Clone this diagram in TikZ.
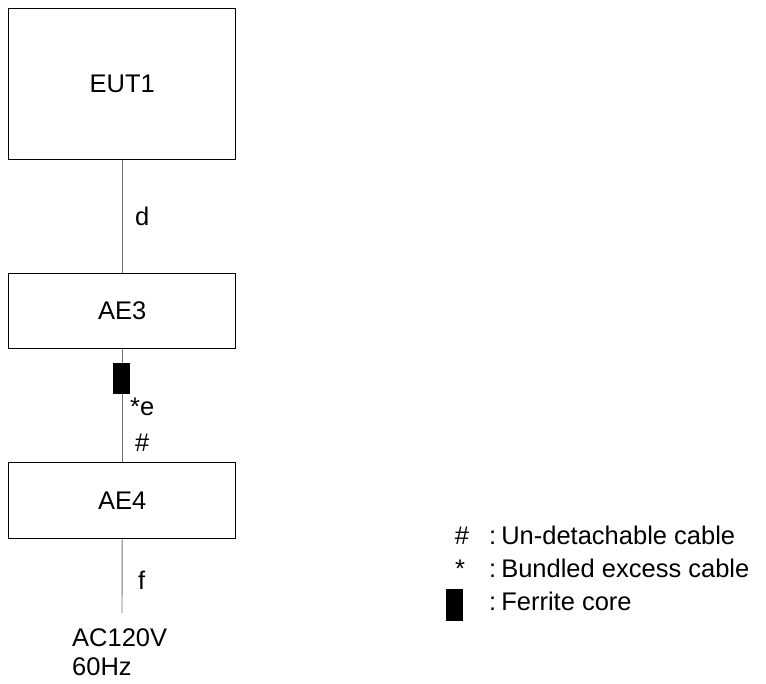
\documentclass[tikz,border=0pt]{standalone}
\usepackage{fontspec}
\setmainfont{Liberation Sans}
\begin{document}
\begin{tikzpicture}[x=1pt,y=-1pt,
  box/.style={draw=black,line width=1.4pt,minimum width=227pt,inner sep=0pt},
  cable/.style={draw=black!55,line width=0.9pt},
  lbl/.style={font=\fontsize{25.5}{29}\selectfont,inner sep=0pt},
  ferrite/.style={fill=black,draw=none,minimum width=17pt,minimum height=31pt,inner sep=0pt}]
\useasboundingbox (0,0) rectangle (766,684);
\node[box,minimum height=151pt,anchor=north west,lbl] (eut) at (8,8) {EUT1};
\node[box,minimum height=75pt,anchor=north west,lbl] (ae3) at (8,273) {AE3};
\node[box,minimum height=76pt,anchor=north west,lbl] (ae4) at (8,462) {AE4};
\coordinate (pw) at (122,613);
\draw[cable] (eut.south) -- (ae3.north);
\draw[cable] (ae3.south) -- (ae4.north);
\draw[cable] (ae4.south) -- (pw);
\node[ferrite] (fc) at (121.5,378.5) {};
\node[lbl,anchor=base west] (d) at (135,226) {d};
\node[lbl,anchor=base west] (e) at (130,416) {*e};
\node[lbl,anchor=base west] (h) at (135,452) {\#};
\node[lbl,anchor=base west] (f) at (138,589) {f};
\node[lbl,anchor=base west,align=left] (ac1) at (72,646) {AC120V};
\node[lbl,anchor=base west,align=left] (ac2) at (72,675) {60Hz};
% legend
\node[lbl,anchor=base] (lh) at (462,544) {\#};
\node[lbl,anchor=base west] (lht) at (489,544) {:\kern5pt Un-detachable cable};
\node[lbl,anchor=base] (ls) at (460,577) {*};
\node[lbl,anchor=base west] (lst) at (489,577) {:\kern5pt Bundled excess cable};
\node[ferrite,minimum height=32pt] (lf) at (454.5,605) {};
\node[lbl,anchor=base west] (lft) at (489,610) {:\kern5pt Ferrite core};
\end{tikzpicture}
\end{document}
